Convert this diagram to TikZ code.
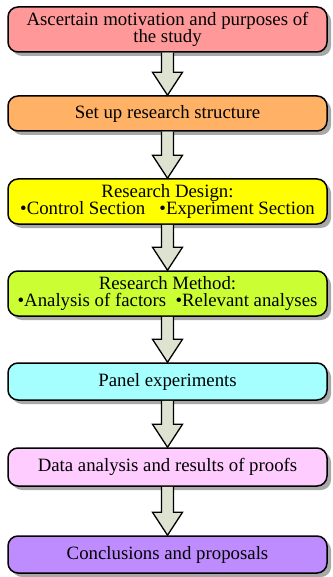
\documentclass[tikz,border=0pt]{standalone}
\usepackage{fontspec}
\setmainfont{Liberation Serif}
\usetikzlibrary{shadows,calc}
\definecolor{c1}{HTML}{FF9999}
\definecolor{c2}{HTML}{FFB266}
\definecolor{c3}{HTML}{FFFF00}
\definecolor{c4}{HTML}{CCFF33}
\definecolor{c5}{HTML}{A6FFFF}
\definecolor{c6}{HTML}{FFCCFF}
\definecolor{c7}{HTML}{BF8CFF}
\definecolor{arrfill}{HTML}{DDE3D0}
\definecolor{shad}{HTML}{A8A8A8}
\tikzset{
  stepbox/.style={draw=black, line width=1.5pt, rounded corners=10pt,
    minimum width=319pt, align=center, inner sep=0pt,
    font=\fontsize{18.8pt}{17.5pt}\selectfont,
    drop shadow={shadow xshift=4pt, shadow yshift=-4pt, fill=shad, opacity=1}},
  fatarrow/.style={draw=black, line width=1.3pt, fill=arrfill, line join=miter}
}
\newcommand{\fatarr}[2]{%
  \path let \p1=(#1.south), \p2=(#2.north) in
    [fatarrow] (\x1-6pt,\y1) -- (\x1-6pt,\y2+23pt) -- (\x1-15pt,\y2+23pt) -- (\x2,\y2)
    -- (\x1+15pt,\y2+23pt) -- (\x1+6pt,\y2+23pt) -- (\x1+6pt,\y1);}
\begin{document}
\begin{tikzpicture}[x=1pt,y=-1pt]
\useasboundingbox (0,0) rectangle (332,577);
\node[stepbox, fill=c1, minimum height=45pt] (b1) at (167.5,29.5) {Ascertain motivation and purposes of\\the study};
\node[stepbox, fill=c2, minimum height=35pt] (b2) at (167.5,113.5) {Set up research structure};
\node[stepbox, fill=c3, minimum height=45pt] (b3) at (167.5,201.5) {Research Design:\\•Control Section\hspace{0.75em}•Experiment Section};
\node[stepbox, fill=c4, minimum height=45pt] (b4) at (167.5,293.5) {Research Method:\\•Analysis of factors\hspace{0.5em}•Relevant analyses};
\node[stepbox, fill=c5, minimum height=37pt] (b5) at (167.5,381.5) {Panel experiments};
\node[stepbox, fill=c6, minimum height=38pt] (b6) at (167.5,467) {Data analysis and results of proofs};
\node[stepbox, fill=c7, minimum height=37pt] (b7) at (167.5,554.5) {Conclusions and proposals};
\fatarr{b1}{b2}
\fatarr{b2}{b3}
\fatarr{b3}{b4}
\fatarr{b4}{b5}
\fatarr{b5}{b6}
\fatarr{b6}{b7}
\end{tikzpicture}
\end{document}
